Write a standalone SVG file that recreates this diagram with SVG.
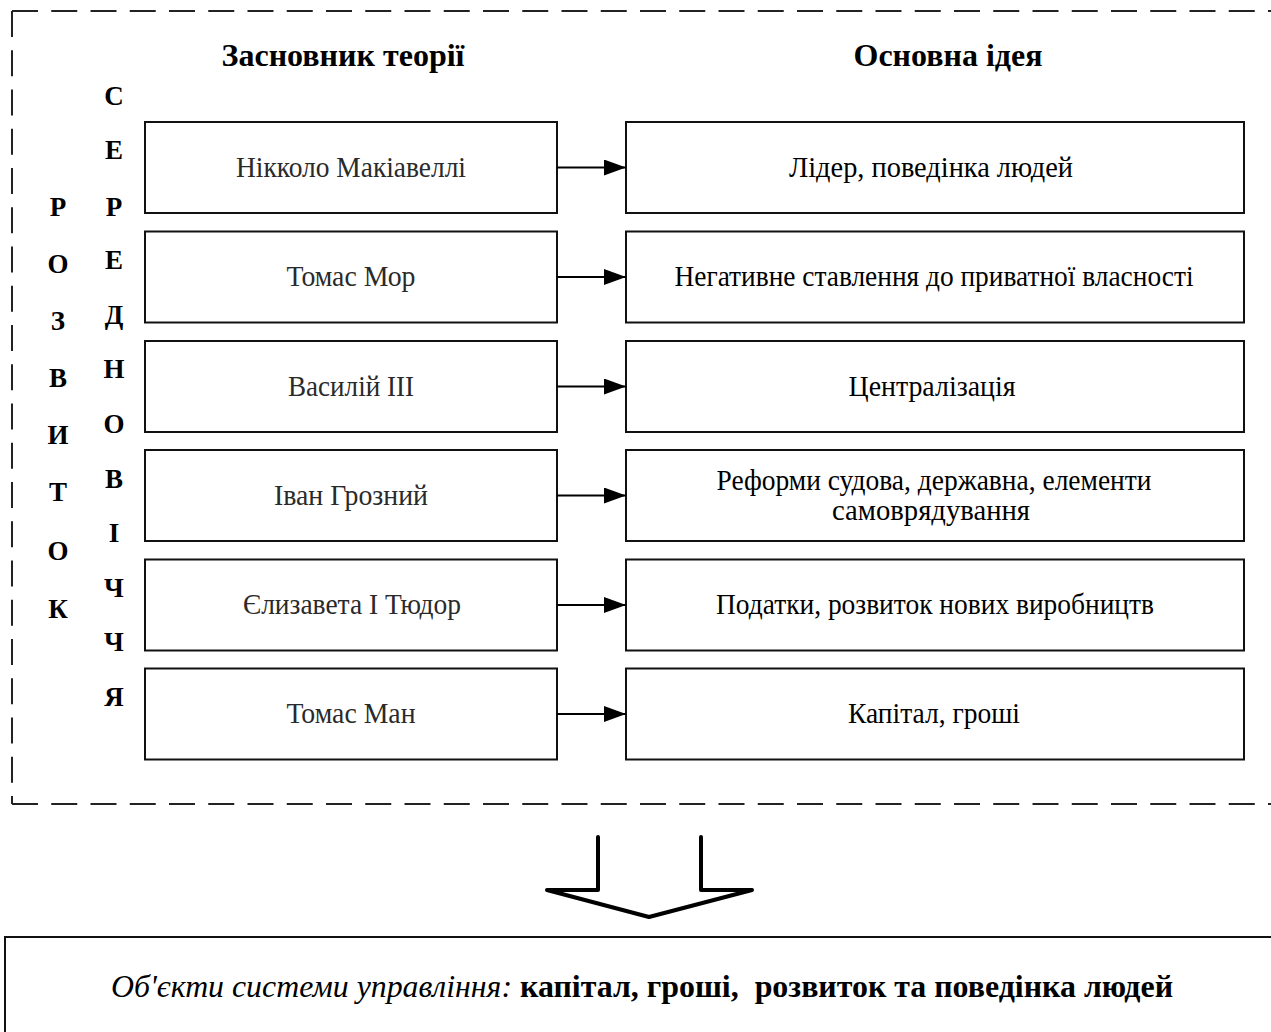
<svg xmlns="http://www.w3.org/2000/svg" width="1271" height="1032" viewBox="0 0 1271 1032">
<style>
.frame{fill:none;stroke:#222;stroke-width:2;stroke-dasharray:26 13.25}
.box{fill:#fff;stroke:#111;stroke-width:2}
.t{font-family:"Liberation Serif","Times New Roman",serif;font-size:28.5px;text-anchor:middle;fill:#2a2a2a}
.r{fill:#000}
.h{font-family:"Liberation Serif","Times New Roman",serif;font-size:31px;font-weight:bold;text-anchor:middle;fill:#000}
.v{font-family:"Liberation Serif","Times New Roman",serif;font-size:27px;font-weight:bold;text-anchor:middle;fill:#000}
.ln{stroke:#000;stroke-width:2;fill:none}
.big{stroke:#000;stroke-width:4;fill:none;stroke-linejoin:round;stroke-linecap:round}
</style>
<defs>
<marker id="ah" markerWidth="22" markerHeight="16" refX="22" refY="8" orient="auto" markerUnits="userSpaceOnUse">
<path d="M0,0 L22,8 L0,16 Z" fill="#000"/>
</marker>
</defs>
<rect width="1271" height="1032" fill="#fff"/>
<g id="frame">
<path class="frame" d="M12,11 H1290"/>
<path class="frame" d="M12,11 V804"/>
<path class="frame" d="M12,804 H1290"/>
</g>
<g id="headers">
<text class="h" x="343" y="66" textLength="243" lengthAdjust="spacingAndGlyphs">Засновник теорії</text>
<text class="h" x="948" y="66" textLength="189" lengthAdjust="spacingAndGlyphs">Основна ідея</text>
</g>
<g id="vertical-serednovichchya">
<text class="v" x="114" y="105">С</text>
<text class="v" x="114" y="159">Е</text>
<text class="v" x="114" y="216">Р</text>
<text class="v" x="114" y="269">Е</text>
<text class="v" x="114" y="324">Д</text>
<text class="v" x="114" y="378">Н</text>
<text class="v" x="114" y="433">О</text>
<text class="v" x="114" y="488">В</text>
<text class="v" x="114" y="542">І</text>
<text class="v" x="114" y="597">Ч</text>
<text class="v" x="114" y="651">Ч</text>
<text class="v" x="114" y="706">Я</text>
</g>
<g id="vertical-rozvytok">
<text class="v" x="58" y="216">Р</text>
<text class="v" x="58" y="273">О</text>
<text class="v" x="58" y="330">З</text>
<text class="v" x="58" y="387">В</text>
<text class="v" x="58" y="444">И</text>
<text class="v" x="58" y="501">Т</text>
<text class="v" x="58" y="560">О</text>
<text class="v" x="58" y="618">К</text>
</g>
<g id="n1"><rect class="box" x="145" y="122" width="412" height="91"/><text class="t" x="351" y="177" textLength="230" lengthAdjust="spacingAndGlyphs">Нікколо Макіавеллі</text></g>
<g id="n2"><rect class="box" x="145" y="231.5" width="412" height="91"/><text class="t" x="351" y="286" textLength="129" lengthAdjust="spacingAndGlyphs">Томас Мор</text></g>
<g id="n3"><rect class="box" x="145" y="341" width="412" height="91"/><text class="t" x="351" y="396" textLength="126" lengthAdjust="spacingAndGlyphs">Василій III</text></g>
<g id="n4"><rect class="box" x="145" y="450" width="412" height="91"/><text class="t" x="351" y="505" textLength="154" lengthAdjust="spacingAndGlyphs">Іван Грозний</text></g>
<g id="n5"><rect class="box" x="145" y="559.5" width="412" height="91"/><text class="t" x="352" y="614" textLength="218" lengthAdjust="spacingAndGlyphs">Єлизавета І Тюдор</text></g>
<g id="n6"><rect class="box" x="145" y="668.5" width="412" height="91"/><text class="t" x="351" y="723" textLength="129" lengthAdjust="spacingAndGlyphs">Томас Ман</text></g>
<g id="m1"><rect class="box" x="626" y="122" width="618" height="91"/><text class="t r" x="931" y="177" textLength="284" lengthAdjust="spacingAndGlyphs">Лідер, поведінка людей</text></g>
<g id="m2"><rect class="box" x="626" y="231.5" width="618" height="91"/><text class="t r" x="934" y="286" textLength="519" lengthAdjust="spacingAndGlyphs">Негативне ставлення до приватної власності</text></g>
<g id="m3"><rect class="box" x="626" y="341" width="618" height="91"/><text class="t r" x="932" y="396" textLength="167" lengthAdjust="spacingAndGlyphs">Централізація</text></g>
<g id="m4"><rect class="box" x="626" y="450" width="618" height="91"/><text class="t r" x="934" y="490" textLength="435" lengthAdjust="spacingAndGlyphs">Реформи судова, державна, елементи</text><text class="t r" x="931" y="520" textLength="198" lengthAdjust="spacingAndGlyphs">самоврядування</text></g>
<g id="m5"><rect class="box" x="626" y="559.5" width="618" height="91"/><text class="t r" x="935" y="614" textLength="438" lengthAdjust="spacingAndGlyphs">Податки, розвиток нових виробництв</text></g>
<g id="m6"><rect class="box" x="626" y="668.5" width="618" height="91"/><text class="t r" x="934" y="723" textLength="172" lengthAdjust="spacingAndGlyphs">Капітал, гроші</text></g>
<g id="connectors">
<line class="ln" x1="557" y1="167.5" x2="626" y2="167.5" marker-end="url(#ah)"/>
<line class="ln" x1="557" y1="277" x2="626" y2="277" marker-end="url(#ah)"/>
<line class="ln" x1="557" y1="386.5" x2="626" y2="386.5" marker-end="url(#ah)"/>
<line class="ln" x1="557" y1="495.5" x2="626" y2="495.5" marker-end="url(#ah)"/>
<line class="ln" x1="557" y1="605" x2="626" y2="605" marker-end="url(#ah)"/>
<line class="ln" x1="557" y1="714" x2="626" y2="714" marker-end="url(#ah)"/>
<path class="big" d="M598,837 V890 H547 L649,917 L752,890 H701 V837"/>
</g>
<g id="result">
<rect class="box" x="5" y="937" width="1300" height="130"/>
<text x="111" y="997" font-family="Liberation Serif, Times New Roman, serif" font-size="32" font-style="italic" fill="#000" textLength="401" lengthAdjust="spacingAndGlyphs">Об'єкти системи управління:</text>
<text x="520" y="997" xml:space="preserve" font-family="Liberation Serif, Times New Roman, serif" font-size="32" font-weight="bold" fill="#000" textLength="653" lengthAdjust="spacingAndGlyphs">капітал, гроші,  розвиток та поведінка людей</text>
</g>
</svg>
